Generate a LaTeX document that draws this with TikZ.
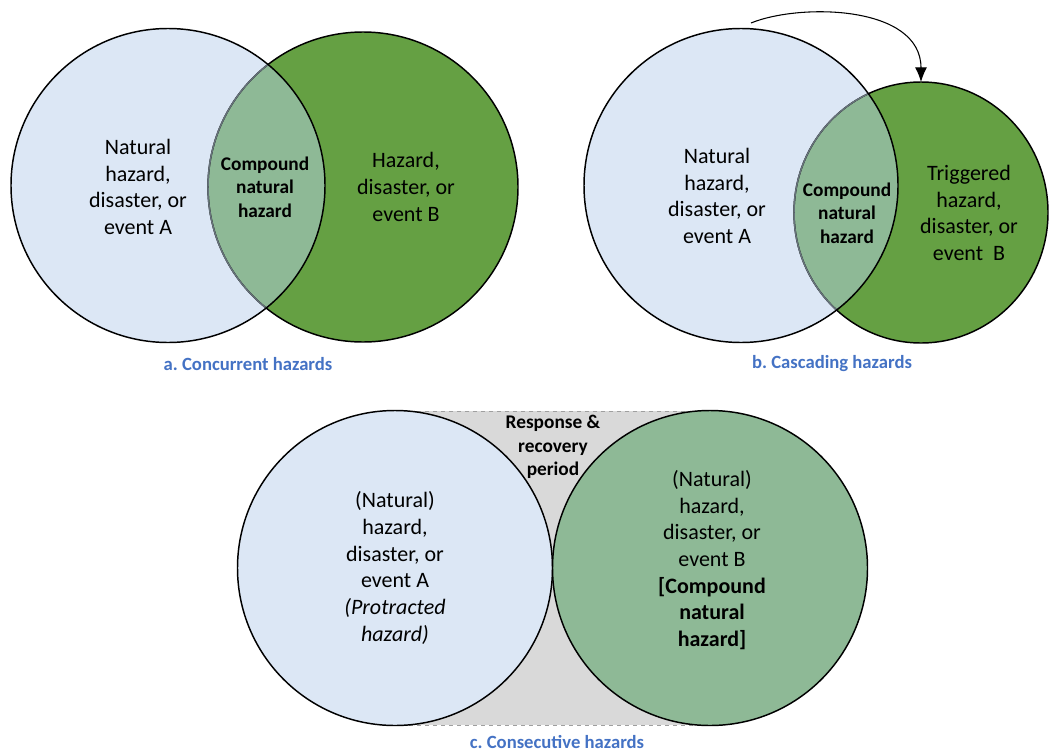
\documentclass[tikz,border=0pt]{standalone}
\usepackage{fontspec}
\setmainfont{Carlito}
\usetikzlibrary{arrows.meta,positioning}

\definecolor{hazblue}{HTML}{DCE7F5}
\definecolor{hazgreen}{HTML}{65A043}
\definecolor{lensgreen}{HTML}{8EB996}
\definecolor{arcgray}{HTML}{66727A}
\definecolor{gapgray}{HTML}{D9D9D9}
\definecolor{capblue}{HTML}{4472C4}

\begin{document}
\begin{tikzpicture}[x=0.75pt, y=-0.75pt, thick]
        \tikzstyle{ring} = [draw=black, line width=1.1pt]
        \tikzstyle{txt} = [align=center, font=\fontsize{16.5}{20}\selectfont]
        \tikzstyle{core} = [align=center, font=\fontsize{14.5}{17.6}\selectfont\bfseries]
        \tikzstyle{caption} = [font=\fontsize{14}{17}\selectfont\bfseries\frenchspacing, text=capblue]
        \tikzstyle{line} = [draw, line width=0.8pt, -{Latex[length=11pt,width=9pt]}]

        \useasboundingbox (0,0) rectangle (1049,753);

        % a. concurrent
        \coordinate (aA) at (168,185.5);
        \coordinate (aB) at (363,187);
        \fill[hazblue] (aA) circle[radius=157];
        \fill[hazgreen] (aB) circle[radius=155];
        \begin{scope}
            \clip (aA) circle[radius=157];
            \fill[lensgreen] (aB) circle[radius=155];
        \end{scope}
        \draw[ring] (aB) circle[radius=155];
        \begin{scope}
            \clip (aA) circle[radius=157];
            \draw[ring, draw=arcgray] (aB) circle[radius=155];
        \end{scope}
        \draw[ring] (aA) circle[radius=157];

        \node [txt] (atextA) at (138,187) {Natural\\hazard,\\disaster, or\\event A};
        \node [core] (alens) at (265,187) {Compound\\natural\\hazard};
        \node [txt] (atextB) at (406,187) {Hazard,\\disaster, or\\event B};
        \node [caption] (acap) at (248,364) {a. Concurrent hazards};

        % b. cascading
        \coordinate (bA) at (741,185.5);
        \coordinate (bB) at (921,212.5);
        \fill[hazblue] (bA) circle[radius=157];
        \fill[hazgreen] (bB) ellipse[x radius=127, y radius=130.5];
        \begin{scope}
            \clip (bA) circle[radius=157];
            \fill[lensgreen] (bB) ellipse[x radius=127, y radius=130.5];
        \end{scope}
        \draw[ring] (bB) ellipse[x radius=127, y radius=130.5];
        \begin{scope}
            \clip (bA) circle[radius=157];
            \draw[ring, draw=arcgray] (bB) ellipse[x radius=127, y radius=130.5];
        \end{scope}
        \draw[ring] (bA) circle[radius=157];

        \node [txt] (btextA) at (717,196) {Natural\\hazard,\\disaster, or\\event A};
        \node [core] (blens) at (847,213) {Compound\\natural\\hazard};
        \node [txt] (btextB) at (969,213) {Triggered\\hazard,\\disaster, or\\event~~B};
        \node [caption] (bcap) at (832,364) {b. Cascading hazards};

        % trigger arrow onto the top of B
        \coordinate (trig) at (751,23);
        \coordinate (btop) at (921,82);
        \path [line] (trig) .. controls (800,3) and (921,5) .. (btop);

        % c. consecutive, with the gap between the two events
        \draw [fill=gapgray, draw=gray!75, dashed, line width=0.7pt] (395,411) rectangle (710,725);
        \coordinate (cA) at (395,568);
        \coordinate (cB) at (710,568);
        \draw[ring, fill=hazblue] (cA) circle[radius=157.5];
        \draw[ring, fill=lensgreen] (cB) circle[radius=157.5];

        \node [core] (gap) at (553,447) {Response \&\\recovery\\period};
        \node [txt] (ctextA) at (395,568) {(Natural)\\hazard,\\disaster, or\\event A\\\textit{(Protracted}\\\textit{hazard)}};
        \node [txt] (ctextB) at (712,560) {(Natural)\\hazard,\\disaster, or\\event B\\\textbf{[Compound}\\\textbf{natural}\\\textbf{hazard]}};
        \node [caption] (ccap) at (557,742) {c. Consecutive hazards};
\end{tikzpicture}
\end{document}
